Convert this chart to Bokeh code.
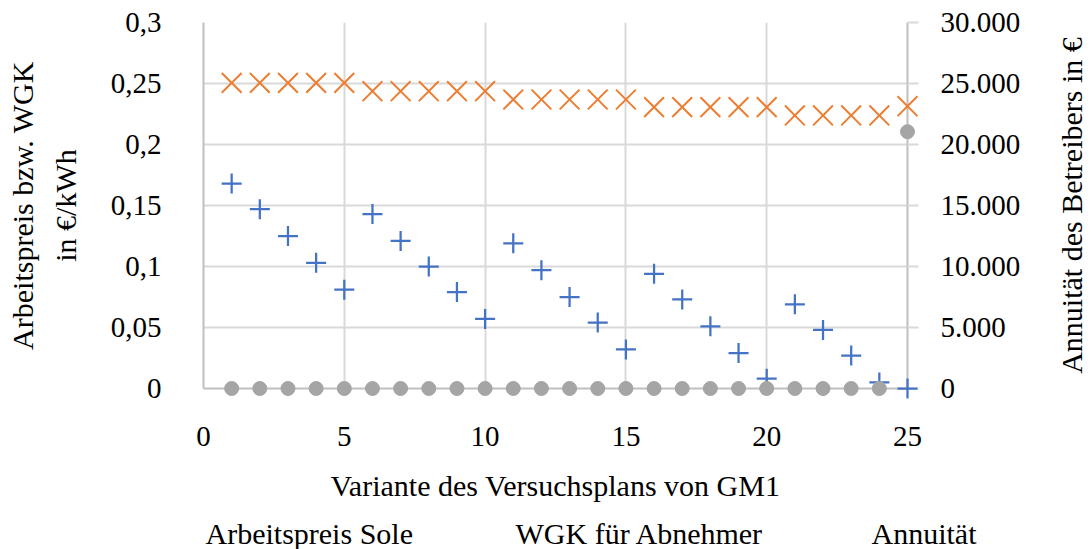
import math
from bokeh.plotting import figure
from bokeh.models import Range1d, LinearAxis, FixedTicker
from bokeh.core.properties import value
from bokeh.embed import file_html
from bokeh.resources import INLINE

# ---------------- data ----------------
variante = [1, 2, 3, 4, 5, 6, 7, 8, 9, 10, 11, 12, 13, 14, 15, 16, 17, 18, 19, 20, 21, 22, 23, 24, 25]
arbeitspreis_sole = [0.168, 0.147, 0.125, 0.103, 0.081,
                     0.143, 0.121, 0.100, 0.079, 0.057,
                     0.119, 0.097, 0.075, 0.054, 0.032,
                     0.094, 0.073, 0.051, 0.029, 0.008,
                     0.069, 0.048, 0.027, 0.005, 0.000]
wgk_abnehmer = [0.2505, 0.2505, 0.2505, 0.2505, 0.2505,
                0.2437, 0.2437, 0.2437, 0.2437, 0.2437,
                0.2369, 0.2369, 0.2369, 0.2369, 0.2369,
                0.2306, 0.2306, 0.2306, 0.2306, 0.2306,
                0.2238, 0.2238, 0.2238, 0.2238, 0.2314]
annuitaet = [0, 0, 0, 0, 0, 0, 0, 0, 0, 0, 0, 0, 0, 0, 0, 0, 0, 0, 0, 0, 0, 0, 0, 0, 21050]

x_ticks = [0, 5, 10, 15, 20, 25]
left_ticks = [0, 0.05, 0.1, 0.15, 0.2, 0.25, 0.3]
left_tick_labels = ["0", "0,05", "0,1", "0,15", "0,2", "0,25", "0,3"]
right_ticks = [0, 5000, 10000, 15000, 20000, 25000, 30000]
right_tick_labels = ["0", "5.000", "10.000", "15.000", "20.000", "25.000", "30.000"]

series_names = ["Arbeitspreis Sole", "WGK für Abnehmer", "Annuität"]
x_title = "Variante des Versuchsplans von GM1"
left_title = "Arbeitspreis bzw. WGK\nin €/kWh"
right_title = "Annuität des Betreibers in €"

# ---------------- style ----------------
FONT = "Liberation Serif"
BLUE = "#4472C4"
ORANGE = "#ED7D31"
GRAY = "#A5A5A5"
GRID = "#D9D9D9"
AXIS = "#BFBFBF"

W, H = 1091, 549
FL, FR, FT, FB = 203, 907, 22, 388   # frame edges in pixels

X0, X1, Y0, Y1 = 0, 25, 0, 0.3
p = figure(width=W, height=H, output_backend="svg", toolbar_location=None,
           x_range=Range1d(X0, X1), y_range=Range1d(Y0, Y1),
           min_border_left=FL, min_border_right=W - FR,
           min_border_top=FT, min_border_bottom=H - FB)
p.extra_y_ranges = {"ann": Range1d(0, 30000)}
p.outline_line_color = None
p.background_fill_color = "white"
p.border_fill_color = "white"

# x axis
xa = p.xaxis[0]
xa.ticker = FixedTicker(ticks=x_ticks)
xa.axis_label = x_title
xa.axis_line_color = AXIS
xa.axis_line_width = 2
xa.major_tick_line_color = None
xa.minor_tick_line_color = None
xa.major_label_standoff = 32
xa.axis_label_standoff = 20

# left axis
ya = p.yaxis[0]
ya.ticker = FixedTicker(ticks=left_ticks)
ya.major_label_overrides = dict(zip(left_ticks, left_tick_labels))
ya.axis_label = left_title
ya.axis_line_color = AXIS
ya.axis_line_width = 2
ya.major_tick_line_color = None
ya.minor_tick_line_color = None
ya.major_label_standoff = 36
ya.axis_label_standoff = 26
ya.axis_label_text_line_height = 1.3

# right axis
ra = LinearAxis(y_range_name="ann", ticker=FixedTicker(ticks=right_ticks))
ra.major_label_overrides = dict(zip(right_ticks, right_tick_labels))
ra.axis_line_color = AXIS
ra.axis_line_width = 2
ra.major_tick_line_color = GRID
ra.major_tick_line_width = 2
ra.major_tick_out = 11
ra.major_tick_in = 0
ra.minor_tick_line_color = None
ra.major_label_standoff = 22
p.add_layout(ra, "right")

for ax in (xa, ya, ra):
    ax.major_label_text_font = FONT
    ax.major_label_text_font_size = "29px"
    ax.major_label_text_color = "black"
    ax.axis_label_text_font = FONT
    ax.axis_label_text_font_size = "30px"
    ax.axis_label_text_font_style = "normal"
    ax.axis_label_text_color = "black"

p.xgrid.grid_line_color = GRID
p.xgrid.grid_line_width = 2
p.ygrid.grid_line_color = GRID
p.ygrid.grid_line_width = 2

# right axis title, reading bottom-to-top like the original,
# anchored at the right axis (x range end), vertically centred
p.text(x=[X1], y=[(Y0 + Y1) / 2],
       text=[right_title], angle=math.pi / 2, x_offset=164,
       text_align="center", text_baseline="middle",
       text_font=value(FONT), text_font_size="30px", text_color="black",
       level="overlay")

# ---------------- series ----------------
p.scatter(variante, arbeitspreis_sole, marker="cross", size=20,
          line_color=BLUE, line_width=2.25, level="overlay")
p.scatter(variante, wgk_abnehmer, marker="x", size=28,
          line_color=ORANGE, line_width=2, level="overlay")
p.scatter(variante, annuitaet, marker="circle", size=14,
          fill_color=GRAY, line_color=GRAY, y_range_name="ann", level="overlay")

# ---------------- legend row below the x axis title ----------------
# legend layout given in pixels, converted to the plot's own scale
def px_to_x(px):
    return X0 + (px - FL) * (X1 - X0) / (FR - FL)

def py_to_y(py):
    return Y0 - (py - FB) * (Y1 - Y0) / (FB - FT)

LEG_Y = py_to_y(533)
key_px = [176, 494, 856]
text_px = [205, 515, 871]

p.scatter([px_to_x(key_px[0])], [LEG_Y], marker="cross", size=19,
          line_color=BLUE, line_width=2.25, level="overlay")
p.scatter([px_to_x(key_px[1])], [LEG_Y], marker="x", size=24,
          line_color=ORANGE, line_width=2, level="overlay")
p.scatter([px_to_x(key_px[2])], [LEG_Y], marker="circle", size=14,
          fill_color=GRAY, line_color=GRAY, level="overlay")
p.text(x=[px_to_x(v) for v in text_px], y=[LEG_Y] * 3, text=series_names,
       text_align="left", text_baseline="middle",
       text_font=value(FONT), text_font_size="30px", text_color="black",
       level="overlay")

open("out.html", "w").write(file_html(p, INLINE))
